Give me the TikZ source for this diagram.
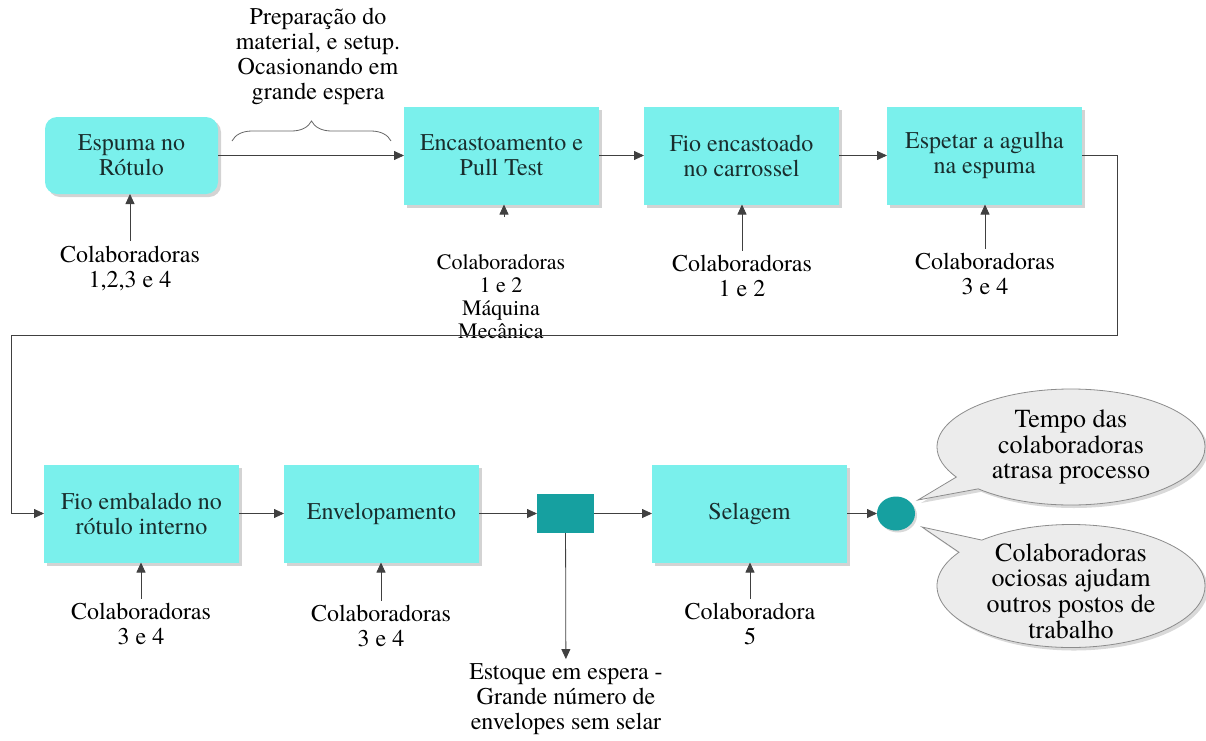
\documentclass[tikz,border=0pt]{standalone}
\usepackage{fontspec}
\setmainfont{TeX Gyre Termes}
\usepackage{tikz}
\usetikzlibrary{positioning, arrows.meta, shapes.geometric, shapes.callouts, shadows, decorations.pathreplacing}
\definecolor{ciano}{RGB}{122,240,236}
\definecolor{petroleo}{RGB}{22,160,160}
\definecolor{cinzabalao}{RGB}{236,236,236}
\definecolor{textoetapa}{RGB}{25,45,45}
\tikzset{
  etapa/.style={rectangle, minimum width=97.5pt, minimum height=49pt, inner sep=2pt, outer sep=0pt, text centered, align=center, fill=ciano, text=textoetapa, font=\fontsize{12}{12.5}\selectfont, drop shadow={shadow xshift=1.5pt, shadow yshift=-1.5pt, opacity=0.35}},
  inicio/.style={etapa, rounded corners=6pt, minimum width=86.5pt, minimum height=38.5pt},
  rotulo/.style={align=center, inner sep=2pt, font=\fontsize{12}{12.5}\selectfont},
  estoque/.style={rectangle, minimum width=28.5pt, minimum height=19.5pt, fill=petroleo, outer sep=0pt},
  fim/.style={ellipse, minimum width=19pt, minimum height=17pt, inner sep=0pt, outer sep=0pt, fill=petroleo, drop shadow={shadow xshift=1pt, shadow yshift=-1pt, opacity=0.3}},
  balao/.style={ellipse callout, draw=black!45, fill=cinzabalao, minimum width=134pt, inner sep=0pt, drop shadow={shadow xshift=1.5pt, shadow yshift=-1.5pt, opacity=0.3}},
  arrow/.style={->,>={Triangle[length=5pt,width=4.5pt]}, draw=black!75}
}

\begin{document}
\begin{tikzpicture}[
    x=0.5pt, y=-0.5pt,
    node distance=22.5pt
]
    \useasboundingbox (0,0) rectangle (1206,740);

    % primeira linha
    \node (espuma) [inicio] at (131.5,155.5) {Espuma no\\Rótulo};
    \node (encasto) [etapa, right=93pt of espuma] {Encastoamento e\\Pull Test};
    \node (carrossel) [etapa, right=of encasto] {Fio encastoado\\no carrossel};
    \node (espetar) [etapa, right=24pt of carrossel] {Espetar a agulha\\na espuma};

    % segunda linha
    \node (embalado) [etapa] at (141.5,513.5) {Fio embalado no\\rótulo interno};
    \node (envelope) [etapa, right=of embalado] {Envelopamento};
    \node (pilha) [estoque, right=29pt of envelope] {};
    \node (selagem) [etapa, right=29pt of pilha] {Selagem};
    \node (saida) [fim, right=15pt of selagem] {};

    % textos
    \node (preparo) [rotulo] at (318,56) {Preparação do\\material, e setup.\\Ocasionando em\\grande espera};
    \node (col-espuma) [rotulo] at (130,268) {Colaboradoras\\1,2,3 e 4};
    \node (col-encasto) [rotulo, font=\fontsize{11}{11.5}\selectfont] at (501,297) {Colaboradoras\\1 e 2\\Máquina\\Mecânica};
    \node (col-carrossel) [rotulo] at (742,276) {Colaboradoras\\1 e 2};
    \node (col-espetar) [rotulo] at (985,274) {Colaboradoras\\3 e 4};
    \node (col-embalado) [rotulo] at (141,624) {Colaboradoras\\3 e 4};
    \node (col-envelope) [rotulo] at (381,626) {Colaboradoras\\3 e 4};
    \node (col-selagem) [rotulo] at (750,624) {Colaboradora\\5};
    \node (espera) [rotulo] at (566,699) {Estoque em espera -\\Grande número de\\envelopes sem selar};

    % baloes
    \node (balao-atraso) [balao, minimum height=58pt, callout absolute pointer={(918,500)},
        label={[rotulo, font=\fontsize{13}{12.8}\selectfont]center:{Tempo das\\colaboradoras\\atrasa processo}}] at (1071,447) {};
    \node (balao-ociosas) [balao, minimum height=61.5pt, callout absolute pointer={(922,527)},
        label={[rotulo, font=\fontsize{13}{12.8}\selectfont, yshift=-2.5pt]center:{Colaboradoras\\ociosas ajudam\\outros postos de\\trabalho}}] at (1071,586) {};

    % chave
    \coordinate (chave-i) at (232,141);
    \coordinate (chave-f) at (391,141);
    \draw [decorate, decoration={brace, amplitude=10pt}, draw=black!60] (chave-i) -- (chave-f);

    % retorno
    \coordinate (volta-d) at (1117,335);
    \coordinate (volta-e) at (11,335);
    \coordinate (pe-encasto) at (504,217);

    \draw [arrow] (espuma) -- (encasto);
    \draw [arrow] (encasto) -- (carrossel);
    \draw [arrow] (carrossel) -- (espetar);
    \draw [arrow] (espetar.east) -| (volta-d) -- (volta-e) |- (embalado.west);
    \draw [arrow] (embalado) -- (envelope);
    \draw [arrow] (envelope) -- (pilha);
    \draw [arrow] (pilha) -- (selagem);
    \draw [arrow] (selagem) -- (saida);
    \draw [arrow] (pilha) -- (espera);

    \draw [arrow] (col-espuma.north) -- (col-espuma.north |- espuma.south);
    \draw [arrow] (pe-encasto) -- (pe-encasto |- encasto.south);
    \draw [arrow] (col-carrossel.north) -- (col-carrossel.north |- carrossel.south);
    \draw [arrow] (col-espetar.north) -- (col-espetar.north |- espetar.south);
    \draw [arrow] (col-embalado.north) -- (col-embalado.north |- embalado.south);
    \draw [arrow] (col-envelope.north) -- (col-envelope.north |- envelope.south);
    \draw [arrow] (col-selagem.north) -- (col-selagem.north |- selagem.south);
\end{tikzpicture}
\end{document}
